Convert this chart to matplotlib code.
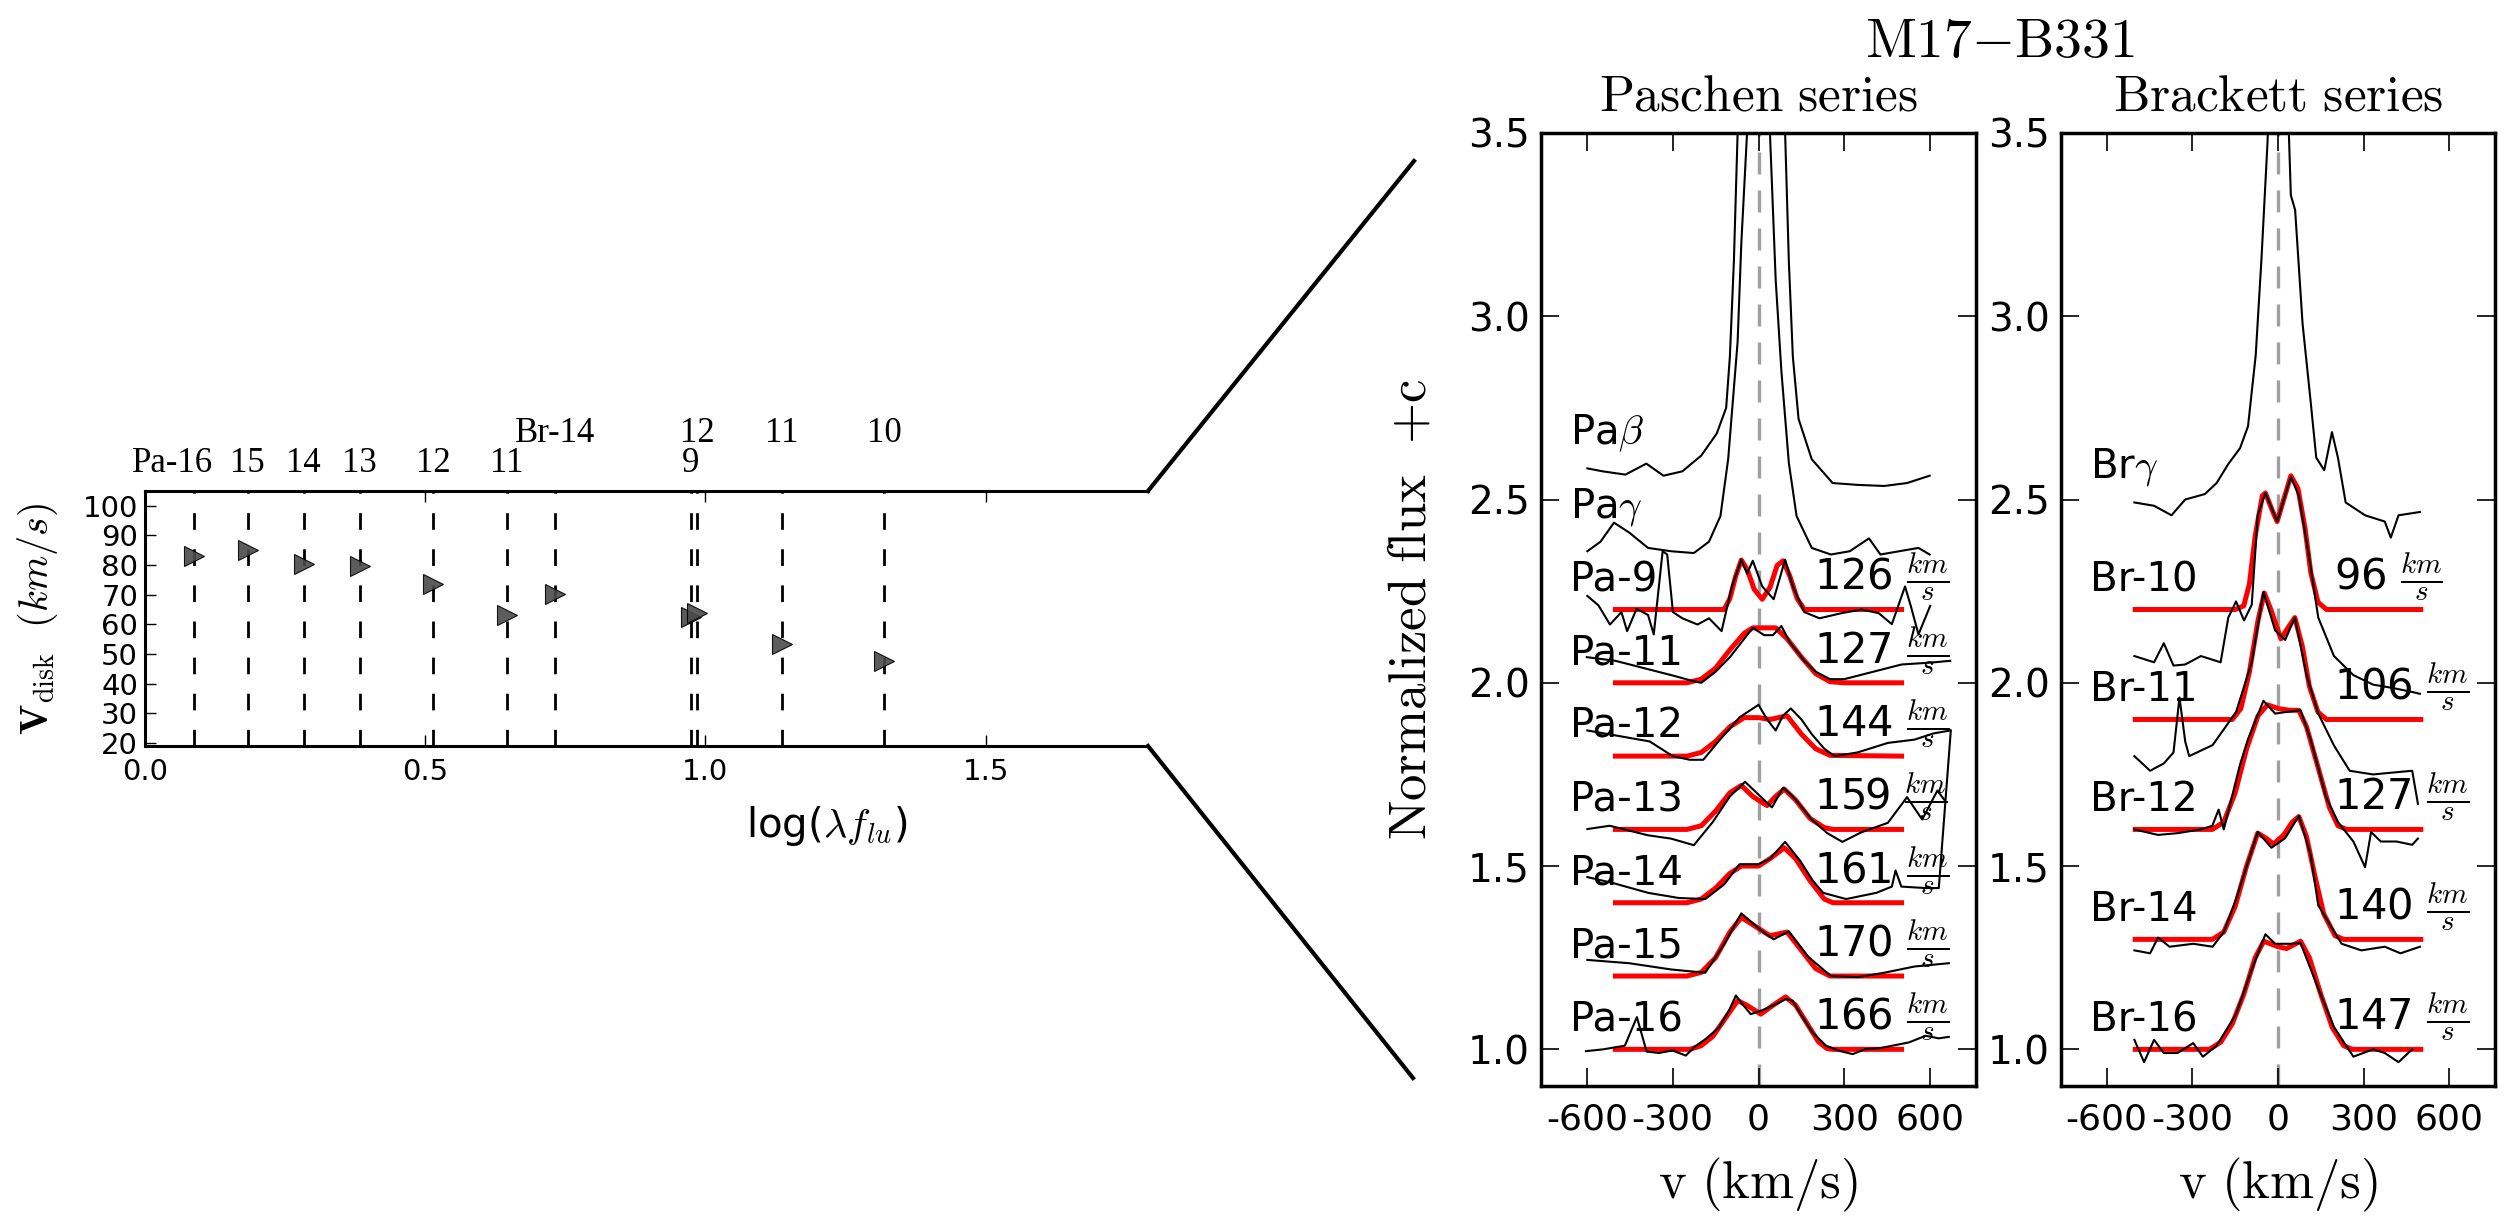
import matplotlib
matplotlib.use('Agg')
import matplotlib.pyplot as plt
from matplotlib.lines import Line2D

plt.rcParams['font.family'] = ['DejaVu Sans']
plt.rcParams['mathtext.fontset'] = 'cm'
plt.rcParams['axes.unicode_minus'] = False

# ---------------- left panel: disk velocity vs log(lambda f_lu) ----------------
trans_names = ['Pa-16', '15', '14', '13', '12', '11', 'Br-14', '9', '12', '11', '10']
trans_row = [0, 0, 0, 0, 0, 0, 1, 0, 1, 1, 1]          # 0: Paschen row, 1: Brackett row
log_lam_f = [0.088, 0.183, 0.283, 0.383, 0.514, 0.646, 0.732, 0.974, 0.985, 1.137, 1.319]
v_disk = [83.2, 85.2, 80.5, 79.6, 73.6, 63.3, 70.1, 62.6, 63.7, 53.3, 47.8]

# ---------------- Paschen spectra (velocity km/s, normalized flux + c) ----------------
pab_v = [-598, -545, -465, -392, -332, -266, -200, -146, -113, -100, -86, -73, -60, 10, 80, 93, 106, 120, 140, 186, 259, 346, 439, 519, 598]
pab_f = [2.585, 2.577, 2.568, 2.598, 2.565, 2.577, 2.62, 2.68, 2.75, 2.89, 3.15, 3.5, 3.9, 5.0, 3.9, 3.5, 3.15, 2.89, 2.72, 2.61, 2.545, 2.54, 2.537, 2.545, 2.565]
pag_v = [-598, -552, -505, -452, -386, -306, -226, -173, -133, -106, -73, -60, -40, 0, 40, 60, 80, 106, 133, 186, 253, 319, 386, 426, 492, 559, 598]
pag_f = [2.359, 2.385, 2.437, 2.41, 2.368, 2.359, 2.354, 2.385, 2.455, 2.61, 2.93, 3.2, 3.5, 4.2, 3.5, 3.1, 2.85, 2.6, 2.455, 2.368, 2.35, 2.359, 2.394, 2.35, 2.359, 2.368, 2.35]
pa9_v = [-598, -559, -519, -479, -459, -426, -386, -366, -335, -319, -299, -266, -213, -173, -129, -93, -60, -40, -20, 13, 53, 93, 120, 160, 213, 290, 360, 420, 466, 512, 532, 559, 600]
pa9_f = [2.237, 2.211, 2.159, 2.193, 2.141, 2.202, 2.185, 2.132, 2.359, 2.35, 2.193, 2.176, 2.159, 2.176, 2.141, 2.263, 2.336, 2.298, 2.333, 2.263, 2.228, 2.336, 2.263, 2.193, 2.176, 2.19, 2.2, 2.19, 2.16, 2.263, 2.21, 2.132, 2.21]
pa11_v = [-600, -500, -400, -300, -230, -200, -150, -100, -50, -20, 20, 50, 80, 110, 160, 200, 250, 300, 350, 400, 500, 600, 670]
pa11_f = [2.07, 2.06, 2.04, 2.02, 2.005, 2.0, 2.03, 2.07, 2.12, 2.15, 2.13, 2.13, 2.155, 2.11, 2.06, 2.03, 2.01, 2.01, 2.02, 2.03, 2.05, 2.055, 2.06]
pa12_v = [-598, -380, -300, -240, -193, -140, -66, 0, 30, 60, 85, 113, 150, 186, 230, 266, 346, 452, 545, 612, 670]
pa12_f = [1.87, 1.84, 1.80, 1.79, 1.79, 1.84, 1.906, 1.94, 1.90, 1.87, 1.91, 1.93, 1.90, 1.86, 1.82, 1.80, 1.81, 1.836, 1.845, 1.862, 1.87]
pa13_v = [-598, -520, -386, -306, -226, -160, -100, -47, 47, 86, 120, 186, 240, 293, 359, 452, 519, 572, 625, 650]
pa13_f = [1.601, 1.61, 1.584, 1.575, 1.557, 1.62, 1.69, 1.73, 1.66, 1.714, 1.69, 1.627, 1.59, 1.566, 1.592, 1.618, 1.688, 1.627, 1.706, 1.68]
pa14_v = [-598, -505, -386, -279, -186, -120, -66, 0, 40, 93, 146, 190, 226, 306, 412, 466, 479, 499, 585, 630, 672]
pa14_f = [1.47, 1.453, 1.427, 1.413, 1.41, 1.45, 1.505, 1.505, 1.52, 1.566, 1.514, 1.46, 1.427, 1.41, 1.427, 1.444, 1.488, 1.444, 1.44, 1.44, 1.87]
pa15_v = [-598, -452, -306, -186, -120, -60, 13, 53, 106, 173, 253, 346, 439, 545, 665]
pa15_f = [1.244, 1.235, 1.218, 1.209, 1.287, 1.371, 1.322, 1.30, 1.322, 1.253, 1.20, 1.197, 1.209, 1.226, 1.235]
pa16_v = [-603, -543, -467, -425, -391, -348, -301, -254, -220, -185, -138, -103, -79, -56, -27, 14, 60, 95, 119, 154, 189, 236, 282, 329, 375, 422, 468, 526, 584, 630, 665]
pa16_f = [0.995, 1.0, 1.01, 1.088, 0.994, 0.99, 0.997, 0.983, 1.009, 1.028, 1.06, 1.106, 1.147, 1.123, 1.096, 1.107, 1.123, 1.137, 1.133, 1.088, 1.046, 1.01, 0.996, 0.987, 1.001, 1.003, 1.01, 1.019, 1.037, 1.03, 1.034]

# Paschen model fits (red)
pa9_fit_v = [-500, -120, -100, -80, -60, -40, -15, 13, 40, 65, 86, 110, 135, 160, 500]
pa9_fit_f = [2.2, 2.2, 2.23, 2.29, 2.335, 2.31, 2.255, 2.228, 2.26, 2.32, 2.333, 2.29, 2.23, 2.2, 2.2]
pa11_fit_v = [-500, -250, -200, -150, -100, -50, -20, 20, 60, 100, 150, 200, 250, 300, 500]
pa11_fit_f = [2.0, 2.0, 2.01, 2.04, 2.09, 2.135, 2.15, 2.15, 2.15, 2.12, 2.07, 2.025, 2.003, 2.0, 2.0]
pa12_fit_v = [-500, -250, -200, -150, -100, -50, 0, 40, 100, 150, 200, 250, 500]
pa12_fit_f = [1.8, 1.8, 1.81, 1.84, 1.88, 1.905, 1.905, 1.9, 1.91, 1.86, 1.82, 1.802, 1.8]
pa13_fit_v = [-500, -250, -200, -150, -100, -60, -20, 30, 60, 90, 130, 180, 230, 260, 500]
pa13_fit_f = [1.6, 1.6, 1.61, 1.65, 1.70, 1.72, 1.69, 1.665, 1.69, 1.71, 1.68, 1.63, 1.605, 1.6, 1.6]
pa14_fit_v = [-500, -250, -200, -150, -100, -60, 0, 40, 90, 130, 180, 230, 260, 500]
pa14_fit_f = [1.4, 1.4, 1.41, 1.44, 1.48, 1.50, 1.50, 1.52, 1.55, 1.52, 1.46, 1.41, 1.4, 1.4]
pa15_fit_v = [-500, -250, -200, -150, -100, -60, -20, 40, 100, 150, 200, 250, 500]
pa15_fit_f = [1.2, 1.2, 1.21, 1.25, 1.32, 1.36, 1.34, 1.31, 1.32, 1.27, 1.22, 1.2, 1.2]
pa16_fit_v = [-500, -240, -200, -160, -120, -73, -40, 8, 50, 95, 130, 170, 210, 240, 260, 500]
pa16_fit_f = [1.0, 1.0, 1.01, 1.035, 1.08, 1.133, 1.12, 1.096, 1.12, 1.143, 1.12, 1.07, 1.02, 1.002, 1.0, 1.0]

pa_names = ['Pa$\\beta$', 'Pa$\\gamma$', 'Pa-9', 'Pa-11', 'Pa-12', 'Pa-13', 'Pa-14', 'Pa-15', 'Pa-16']
pa_offset = [2.55, 2.35, 2.2, 2.0, 1.8, 1.6, 1.4, 1.2, 1.0]
pa_vdisk_fit = [None, None, 126, 127, 144, 159, 161, 170, 166]

# ---------------- Brackett spectra ----------------
brg_v = [-503, -434, -373, -325, -256, -215, -174, -133, -105, -78, -58, -37, -20, 10, 38, 45, 60, 86, 114, 134, 162, 189, 210, 237, 305, 374, 395, 422, 497]
brg_f = [2.492, 2.483, 2.457, 2.5, 2.515, 2.545, 2.597, 2.64, 2.70, 2.894, 3.155, 3.47, 3.8, 4.0, 3.5, 3.33, 3.29, 2.98, 2.77, 2.614, 2.58, 2.684, 2.614, 2.492, 2.457, 2.44, 2.396, 2.457, 2.466]
br10_v = [-503, -434, -400, -366, -325, -270, -201, -174, -147, -119, -92, -71, -44, -3, 45, 73, 107, 141, 196, 264, 333, 401, 470, 497]
br10_f = [2.073, 2.056, 2.108, 2.047, 2.05, 2.073, 2.056, 2.178, 2.222, 2.17, 2.213, 2.457, 2.518, 2.44, 2.562, 2.51, 2.353, 2.178, 2.073, 2.021, 1.995, 1.986, 1.975, 1.97]
br11_v = [-503, -448, -400, -366, -345, -325, -311, -229, -147, -92, -51, -10, 25, 59, 100, 141, 196, 251, 333, 400, 470, 490]
br11_f = [1.80, 1.76, 1.78, 1.81, 1.96, 1.84, 1.80, 1.83, 1.92, 2.056, 2.248, 2.143, 2.117, 2.178, 2.021, 1.916, 1.829, 1.76, 1.75, 1.755, 1.76, 1.67]
br12_v = [-503, -420, -350, -270, -230, -208, -190, -133, -105, -51, -10, 25, 79, 114, 168, 210, 264, 305, 326, 360, 415, 470, 490]
br12_f = [1.60, 1.585, 1.59, 1.60, 1.61, 1.654, 1.60, 1.777, 1.846, 1.951, 1.916, 1.92, 1.925, 1.846, 1.689, 1.62, 1.567, 1.497, 1.593, 1.567, 1.567, 1.558, 1.575]
br14_v = [-503, -448, -420, -380, -297, -229, -190, -147, -71, -23, 25, 73, 114, 141, 182, 223, 292, 374, 429, 497]
br14_f = [1.27, 1.262, 1.305, 1.28, 1.288, 1.28, 1.32, 1.41, 1.593, 1.55, 1.576, 1.637, 1.532, 1.393, 1.34, 1.288, 1.27, 1.28, 1.262, 1.28]
br16_v = [-503, -469, -434, -400, -352, -297, -263, -215, -147, -92, -44, -10, 45, 79, 141, 196, 264, 333, 374, 422, 470]
br16_f = [1.026, 0.965, 1.026, 0.99, 0.99, 1.017, 0.98, 1.01, 1.096, 1.218, 1.314, 1.288, 1.288, 1.29, 1.166, 1.061, 0.98, 1.0, 0.99, 0.965, 1.0]

# Brackett model fits (red)
br10_fit_v = [-500, -150, -120, -100, -80, -55, -44, -20, -3, 20, 45, 70, 95, 115, 140, 170, 500]
br10_fit_f = [2.2, 2.2, 2.21, 2.27, 2.40, 2.51, 2.518, 2.47, 2.44, 2.50, 2.565, 2.53, 2.42, 2.30, 2.22, 2.2, 2.2]
br11_fit_v = [-500, -160, -130, -100, -70, -48, -25, 10, 35, 59, 85, 110, 140, 170, 500]
br11_fit_f = [1.9, 1.9, 1.93, 2.03, 2.17, 2.245, 2.2, 2.12, 2.15, 2.178, 2.1, 1.99, 1.92, 1.9, 1.9]
br12_fit_v = [-500, -230, -190, -150, -110, -70, -37, 0, 40, 73, 100, 140, 180, 210, 240, 500]
br12_fit_f = [1.6, 1.6, 1.62, 1.70, 1.82, 1.91, 1.94, 1.93, 1.925, 1.925, 1.88, 1.77, 1.66, 1.61, 1.6, 1.6]
br14_fit_v = [-500, -230, -190, -150, -110, -71, -40, -16, 20, 50, 73, 100, 130, 160, 200, 230, 500]
br14_fit_f = [1.3, 1.3, 1.32, 1.39, 1.5, 1.59, 1.575, 1.56, 1.585, 1.62, 1.635, 1.58, 1.47, 1.37, 1.31, 1.3, 1.3]
br16_fit_v = [-500, -240, -200, -160, -120, -80, -50, 0, 30, 79, 110, 150, 190, 230, 260, 500]
br16_fit_f = [1.0, 1.0, 1.02, 1.07, 1.15, 1.25, 1.295, 1.28, 1.275, 1.295, 1.25, 1.15, 1.06, 1.01, 1.0, 1.0]

br_names = ['Br$\\gamma$', 'Br-10', 'Br-11', 'Br-12', 'Br-14', 'Br-16']
br_offset = [2.46, 2.2, 1.9, 1.6, 1.3, 1.0]
br_vdisk_fit = [None, 96, 106, 127, 140, 147]

pa_spectra = [(pab_v, pab_f), (pag_v, pag_f), (pa9_v, pa9_f), (pa11_v, pa11_f), (pa12_v, pa12_f),
              (pa13_v, pa13_f), (pa14_v, pa14_f), (pa15_v, pa15_f), (pa16_v, pa16_f)]
pa_fits = [None, None, (pa9_fit_v, pa9_fit_f), (pa11_fit_v, pa11_fit_f), (pa12_fit_v, pa12_fit_f),
           (pa13_fit_v, pa13_fit_f), (pa14_fit_v, pa14_fit_f), (pa15_fit_v, pa15_fit_f), (pa16_fit_v, pa16_fit_f)]
br_spectra = [(brg_v, brg_f), (br10_v, br10_f), (br11_v, br11_f), (br12_v, br12_f), (br14_v, br14_f), (br16_v, br16_f)]
br_fits = [None, (br10_fit_v, br10_fit_f), (br11_fit_v, br11_fit_f), (br12_fit_v, br12_fit_f),
           (br14_fit_v, br14_fit_f), (br16_fit_v, br16_fit_f)]

# ---------------- figure ----------------
W, H = 2520, 1216
fig = plt.figure(figsize=(W / 100, H / 100), dpi=100)

def px_box(x0, y0, x1, y1):
    return [x0 / W, 1 - y1 / H, (x1 - x0) / W, (y1 - y0) / H]

ax0 = fig.add_axes(px_box(145, 491, 1148, 746))
ax1 = fig.add_axes(px_box(1541, 133, 1976, 1086))
ax2 = fig.add_axes(px_box(2061, 133, 2495, 1086))

# left panel
for x in log_lam_f:
    ax0.axvline(x, color='k', lw=2.0, ls=(0, (6, 7)), zorder=1)
ax0.plot(log_lam_f, v_disk, ls='none', marker='>', ms=15, mfc='#4a4a4a', mec='k', mew=0.8,
         alpha=0.9, zorder=3)
for name, x, row in zip(trans_names, log_lam_f, trans_row):
    dy = 13.5 if row == 0 else 35
    dx = -15.5 if name == 'Pa-16' else 0
    ax0.annotate(name, xy=(x, 1), xycoords=('data', 'axes fraction'), xytext=(dx, dy),
                 textcoords='offset points', ha='center', va='baseline',
                 fontsize=25, family='Liberation Serif')
ax0.set_xlim(0, 1.79)
ax0.set_ylim(19, 105)
ax0.set_xticks([0.0, 0.5, 1.0, 1.5])
ax0.set_yticks(list(range(20, 101, 10)))
ax0.tick_params(direction='in', top=True, right=False, length=8, width=1, labelsize=21)
ax0.tick_params(axis='x', pad=9)
ax0.tick_params(axis='y', pad=5)
ax0.spines['right'].set_visible(False)
for s in ('left', 'top', 'bottom'):
    ax0.spines[s].set_linewidth(2.2)
ax0.set_xlabel(r'log($\lambda f_{lu}$)', fontsize=29, va='center')
ax0.xaxis.set_label_coords(0.68, -0.314)
ax0.set_ylabel(r'$\mathbf{V}_{\mathrm{disk}}\ \ (km/s)$', fontsize=29, va='center')
ax0.yaxis.set_label_coords(-0.107, 0.5)

# connector lines from left panel to the spectra panels
fig.add_artist(Line2D([1148 / W, 1414 / W], [1 - 491 / H, 1 - 161 / H], color='k', lw=3,
                      transform=fig.transFigure))
fig.add_artist(Line2D([1148 / W, 1413 / W], [1 - 746 / H, 1 - 1078 / H], color='k', lw=3,
                      transform=fig.transFigure))

def draw_panel(ax, spectra, fits, names, offsets, vfit, title):
    ax.axvline(0, color='#a0a0a0', lw=2.4, ls=(0, (6.6, 4.8)), zorder=1)
    for (v, f), fit, name, off, vd in zip(spectra, fits, names, offsets, vfit):
        if fit is not None:
            ax.plot(fit[0], fit[1], color='red', lw=3.6, zorder=2)
        ax.plot(v, f, color='k', lw=1.5, zorder=3)
        ly = off + (0.1 if vd is None else 0.05)
        ax.text(-660, ly, name, fontsize=29, va='baseline', ha='left', zorder=4)
        if vd is not None:
            ax.text(195, off + 0.05, '%d $\\frac{km}{s}$' % vd, fontsize=30,
                    va='baseline', ha='left', zorder=4)
    ax.set_xlim(-760, 760)
    ax.set_ylim(0.9, 3.5)
    ax.set_xticks([-600, -300, 0, 300, 600])
    ax.set_yticks([1.0, 1.5, 2.0, 2.5, 3.0, 3.5])
    ax.tick_params(direction='in', top=True, right=True, length=13, width=1.2)
    ax.tick_params(axis='y', labelsize=28, pad=8)
    ax.tick_params(axis='x', labelsize=26, pad=12)
    for s in ax.spines.values():
        s.set_linewidth(2.5)
    ax.set_xlabel(r'$\mathrm{v\ (km/s)}$', fontsize=38, va='center')
    ax.xaxis.set_label_coords(0.5, -0.104)
    ax.set_title(title, fontsize=37, pad=16)

draw_panel(ax1, pa_spectra, pa_fits, pa_names, pa_offset, pa_vdisk_fit, r'$\mathrm{Paschen\ series}$')
draw_panel(ax2, br_spectra, br_fits, br_names, br_offset, br_vdisk_fit, r'$\mathrm{Brackett\ series}$')
ax1.set_ylabel(r'$\mathrm{Normalized\ flux}\ \ {+}\mathrm{c}$', fontsize=38, va='center')
ax1.yaxis.set_label_coords(-0.299, 0.5)

fig.text(2000 / W, 1 - 57 / H, r'$\mathrm{M17{-}B331}$', fontsize=40, ha='center', va='baseline')

fig.savefig('out.png', dpi=100)
